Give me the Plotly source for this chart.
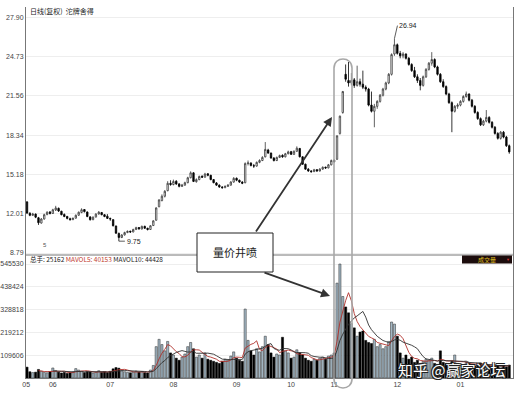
import plotly.graph_objects as go
import pandas as pd

# ---------------- data ----------------
opens = [12.94,12.02,11.85,11.95,11.65,11.22,11.55,11.92,12.12,12.00,12.28,12.42,12.18,11.92,11.76,11.58,11.50,11.62,11.86,12.08,
         12.32,12.12,11.72,11.50,11.72,11.96,12.08,11.90,11.78,11.60,11.50,10.98,10.38,10.05,10.26,10.45,10.56,10.50,10.70,10.86,
         10.74,10.96,10.80,10.70,11.02,11.45,12.55,13.05,13.40,13.85,14.45,14.35,14.62,14.40,14.20,14.30,14.50,14.90,15.30,14.58,
         14.75,15.02,14.95,15.22,15.10,14.75,14.48,14.30,14.15,14.10,14.20,14.30,14.55,14.86,14.70,14.55,14.50,16.05,16.10,15.88,
         15.85,16.15,16.30,16.60,17.15,16.90,16.50,16.30,16.55,16.72,16.60,16.85,17.02,16.80,17.05,17.28,16.60,16.00,15.60,15.45,
         15.40,15.56,15.45,15.60,15.76,15.70,15.95,16.32,16.40,18.50,20.20,23.30,22.80,22.60,22.85,22.40,22.70,22.50,22.25,22.10,
         20.80,20.30,20.70,21.10,21.60,22.10,22.60,23.30,24.95,25.70,25.00,24.80,24.95,24.60,24.10,23.60,23.10,22.80,22.40,23.10,
         23.70,24.20,24.50,23.90,23.30,22.70,22.30,21.70,21.00,20.30,20.70,20.80,21.10,21.50,21.70,21.20,20.70,20.20,19.70,19.20,
         19.50,19.80,19.40,19.00,18.50,18.10,18.60,18.20,17.50]
highs = [13.00,12.10,12.05,12.00,11.72,11.62,11.98,12.18,12.20,12.38,12.62,12.48,12.22,12.00,11.80,11.66,11.68,11.92,12.16,12.42,
         12.36,12.16,11.78,11.76,12.02,12.20,12.12,11.95,11.95,11.66,11.52,11.02,10.45,10.32,10.52,10.62,10.60,10.76,10.92,10.90,
         11.02,11.00,10.84,11.05,11.45,12.50,13.15,13.55,13.90,14.62,14.70,14.75,14.70,14.46,14.40,14.58,14.98,15.42,15.35,14.85,
         15.08,15.10,15.30,15.28,15.14,14.80,14.55,14.36,14.22,14.28,14.38,14.62,14.95,14.92,14.75,14.62,16.15,16.30,16.15,16.02,
         16.22,16.40,16.65,17.80,17.25,16.95,16.58,16.62,16.78,16.80,16.92,17.10,17.08,17.12,17.45,17.32,16.65,16.05,15.68,15.52,
         15.62,15.60,15.68,15.82,15.80,16.02,16.38,16.40,18.35,19.95,21.95,24.10,24.30,23.40,23.00,24.00,22.95,23.60,22.40,22.20,
         21.90,20.90,21.20,21.70,22.20,22.70,23.40,25.00,26.20,25.80,25.20,25.10,25.00,24.70,24.20,23.90,23.30,23.00,23.20,23.80,
         24.30,25.10,24.60,24.00,23.40,22.90,22.40,21.80,21.10,20.80,20.95,21.20,21.60,21.90,21.75,21.30,20.80,20.30,19.80,19.60,
         20.40,19.90,19.50,19.10,18.60,18.70,18.70,18.30,17.60]
lows = [11.95,11.78,11.80,11.62,11.07,11.18,11.50,11.85,11.92,11.96,12.20,12.12,11.85,11.70,11.52,11.42,11.46,11.58,11.80,12.02,
        12.08,11.70,11.42,11.45,11.66,11.90,11.85,11.70,11.55,11.40,10.95,10.35,9.75,10.00,10.20,10.40,10.42,10.46,10.65,10.68,
        10.70,10.76,10.62,10.66,10.98,11.42,12.50,12.98,13.30,13.80,14.25,14.28,14.32,14.12,14.15,14.25,14.45,14.85,14.55,14.50,
        14.70,14.88,14.90,15.02,14.70,14.45,14.25,14.08,14.00,14.05,14.15,14.26,14.50,14.62,14.48,14.38,14.45,15.90,15.82,15.70,
        15.80,16.08,16.25,16.55,16.85,16.45,16.22,16.25,16.50,16.52,16.55,16.80,16.75,16.76,17.00,16.55,15.95,15.55,15.38,15.30,
        15.36,15.38,15.40,15.55,15.62,15.66,15.90,16.12,16.35,18.40,20.10,22.70,22.30,22.40,22.20,22.30,22.30,22.10,21.90,20.70,
        20.20,19.00,20.50,21.00,21.50,22.00,22.50,23.20,24.80,24.90,24.60,24.60,24.50,24.00,23.50,23.00,22.60,22.00,22.30,23.00,
        23.60,24.00,23.80,23.20,22.60,22.20,21.60,20.90,18.60,20.20,20.50,20.70,21.00,21.40,21.10,20.60,20.10,19.60,19.10,19.10,
        19.40,19.30,18.90,18.40,18.00,18.00,18.10,17.40,16.85]
closes = [12.04,11.85,11.95,11.70,11.25,11.55,11.90,12.10,12.00,12.30,12.45,12.20,11.90,11.75,11.60,11.50,11.60,11.85,12.10,12.30,
          12.15,11.75,11.50,11.70,11.95,12.10,11.90,11.75,11.60,11.55,11.00,10.40,10.05,10.25,10.45,10.55,10.50,10.70,10.85,10.75,
          10.95,10.80,10.70,11.00,11.40,12.45,13.10,13.40,13.80,14.45,14.35,14.60,14.40,14.20,14.30,14.50,14.90,15.30,14.60,14.75,
          15.00,14.95,15.20,15.10,14.75,14.50,14.30,14.15,14.10,14.20,14.30,14.55,14.85,14.70,14.55,14.45,16.05,16.10,15.90,15.85,
          16.15,16.30,16.55,17.20,16.90,16.50,16.30,16.55,16.70,16.60,16.85,17.00,16.80,17.05,17.30,16.60,16.00,15.60,15.45,15.40,
          15.55,15.45,15.60,15.75,15.70,15.95,16.30,16.20,18.30,19.90,21.90,22.90,22.60,22.80,22.40,22.70,22.50,22.25,22.10,20.80,
          20.30,20.70,21.10,21.60,22.10,22.60,23.30,24.90,25.70,25.00,24.80,24.95,24.60,24.10,23.60,23.10,22.80,22.40,23.10,23.70,
          24.20,24.50,23.90,23.30,22.70,22.30,21.70,21.00,20.30,20.70,20.80,21.10,21.50,21.70,21.20,20.70,20.20,19.70,19.20,19.50,
          19.80,19.40,19.00,18.50,18.10,18.60,18.20,17.50,17.00]
volumes = [52000,30000,26000,28000,41000,33000,27000,25000,30000,48000,36000,28000,24000,27000,22000,25000,30000,45000,38000,33000,
           26000,31000,29000,24000,28000,35000,27000,30000,26000,32000,44000,50000,47000,36000,30000,27000,25000,29000,33000,28000,
           31000,26000,24000,38000,60000,150000,185000,160000,130000,175000,120000,110000,95000,85000,100000,115000,150000,170000,140000,100000,
           110000,95000,120000,90000,85000,80000,75000,70000,80000,90000,85000,105000,125000,95000,85000,80000,330000,180000,130000,110000,
           140000,125000,150000,200000,160000,120000,100000,115000,110000,195000,130000,120000,95000,100000,135000,120000,110000,95000,85000,80000,
           90000,85000,95000,100000,90000,105000,110000,120000,454000,545530,390000,340000,312000,260000,240000,200000,220000,225000,180000,170000,
           165000,185000,150000,160000,140000,150000,175000,268000,258000,200000,120000,95000,110000,90000,100000,75000,85000,70000,80000,90000,
           85000,95000,70000,65000,130000,75000,70000,65000,80000,110000,70000,68000,62000,75000,70000,60000,58000,65000,72000,55000,
           66000,60000,52000,58000,63000,56000,60000,54000,62000]
month_labels = ["05", "06", "07", "08", "09", "10", "11", "12", "01"]
month_start_idx = [-0.3, 9, 29, 51, 73, 92, 107, 129, 151]
price_ticks = [8.79, 12.01, 15.18, 18.34, 21.56, 24.73, 27.90]
price_tick_text = ["8.79", "12.01", "15.18", "18.34", "21.56", "24.73", "27.90"]
vol_ticks = [109606, 219212, 328818, 438424, 545530]
vol_tick_text = ["109606", "219212", "328818", "438424", "545530"]
title_text = "日线(复权)  沱牌舍得"
high_label, low_label = "26.94", "9.75"

# ---------------- derived ----------------
idx = list(range(len(closes)))
vol_s = pd.Series(volumes, dtype=float)
ma5 = vol_s.rolling(5).mean()
ma10 = vol_s.rolling(10).mean()
up = [c >= o for o, c in zip(opens, closes)]
up_idx = [i for i in idx if up[i]]
dn_idx = [i for i in idx if not up[i]]

FW, FH = 521, 394
L, R, T, B = 26, 513, 7, 378   # plot area in pixels
def px(x): return (x - L) / (R - L)
def py(y): return (B - y) / (B - T)
split = py(255)

fig = go.Figure()
fig.add_trace(go.Candlestick(
    x=idx, open=opens, high=highs, low=lows, close=closes,
    increasing=dict(line=dict(color="#3a3a3a", width=0.8), fillcolor="#ffffff"),
    decreasing=dict(line=dict(color="#000000", width=0.8), fillcolor="#000000"),
    whiskerwidth=0, showlegend=False, hoverinfo="skip", yaxis="y", xaxis="x"))
fig.add_trace(go.Bar(
    x=up_idx, y=[volumes[i] for i in up_idx], yaxis="y2", xaxis="x",
    marker=dict(color="#a3b7c4", line=dict(color="#2a2a2a", width=0.5)),
    width=0.75, showlegend=False, hoverinfo="skip"))
fig.add_trace(go.Bar(
    x=dn_idx, y=[volumes[i] for i in dn_idx], yaxis="y2", xaxis="x",
    marker=dict(color="#000000", line=dict(color="#000000", width=0.5)),
    width=0.75, showlegend=False, hoverinfo="skip"))
fig.add_trace(go.Scatter(x=idx, y=ma5, yaxis="y2", mode="lines",
                         line=dict(color="#b0302a", width=0.9), showlegend=False, hoverinfo="skip"))
fig.add_trace(go.Scatter(x=idx, y=ma10, yaxis="y2", mode="lines",
                         line=dict(color="#303030", width=0.9), showlegend=False, hoverinfo="skip"))

tickfont = dict(family="Liberation Sans, Arial", size=7, color="#444")
top_price = 8.79 + (253 - T) * 0.0812
bot_price = 8.79 - (255 - 253) * 0.0812
fig.update_layout(
    width=FW, height=FH, autosize=False,
    margin=dict(l=L, r=FW - R, t=T, b=FH - B, autoexpand=False),
    paper_bgcolor="white", plot_bgcolor="white",
    bargap=0.2, hovermode=False,
    xaxis=dict(domain=[0, 1], anchor="y2", range=[-0.35, 169.3], automargin=False,
               tickmode="array", tickvals=month_start_idx, ticktext=month_labels,
               tickfont=tickfont, showgrid=False, zeroline=False,
               showline=True, linecolor="#777", linewidth=1, ticks="",
               rangeslider=dict(visible=False)),
    yaxis=dict(domain=[split, 1], range=[bot_price, top_price], automargin=False,
               tickmode="array", tickvals=price_ticks, ticktext=price_tick_text,
               tickfont=tickfont, showgrid=True, gridcolor="#eeeeee", gridwidth=1,
               zeroline=False, showline=True, linecolor="#777", linewidth=1,
               mirror=True, ticks=""),
    yaxis2=dict(domain=[0, split], range=[0, 588600], automargin=False,
                tickmode="array", tickvals=vol_ticks, ticktext=vol_tick_text,
                tickfont=tickfont, showgrid=True, gridcolor="#eeeeee", gridwidth=1,
                zeroline=False, showline=True, linecolor="#777", linewidth=1,
                mirror=True, ticks=""),
    font=dict(family="Liberation Sans, Noto Sans CJK SC"),
)

shapes = []
shapes.append(dict(type="line", xref="paper", yref="paper", x0=0, x1=1, y0=split, y1=split,
                   line=dict(color="#777", width=1)))
shapes.append(dict(type="rect", xref="paper", yref="paper", x0=px(462), x1=px(512), y0=py(263.5), y1=py(255.5),
                   fillcolor="#1c0c0c", line=dict(width=0)))
xl, xr, ytop, ybot = 334, 352, 59, 388
r = (xr - xl) / 2
path = (f"M {px(xl)},{py(ytop + r)} C {px(xl)},{py(ytop - r*0.33)} {px(xr)},{py(ytop - r*0.33)} {px(xr)},{py(ytop + r)} "
        f"L {px(xr)},{py(ybot - r)} C {px(xr)},{py(ybot + r*0.33)} {px(xl)},{py(ybot + r*0.33)} {px(xl)},{py(ybot - r)} Z")
shapes.append(dict(type="path", xref="paper", yref="paper", path=path, layer="above",
                   line=dict(color="#a8a8a8", width=1.6)))
shapes.append(dict(type="rect", xref="paper", yref="paper", x0=px(197), x1=px(273), y0=py(272), y1=py(233),
                   fillcolor="white", line=dict(color="#222", width=1), layer="above"))
fig.update_layout(shapes=shapes)

ann = []
ann.append(dict(xref="paper", yref="paper", x=px(28), y=py(11), text=title_text, showarrow=False,
                xanchor="left", yanchor="middle", font=dict(size=7, color="#222", family="Noto Sans CJK SC")))
ann.append(dict(xref="paper", yref="paper", x=px(28), y=py(259), showarrow=False, xanchor="left", yanchor="middle",
                text="总手: 25162 <span style='color:#c0392b'>MAVOL5: 40153</span> MAVOL10: 44428",
                font=dict(size=6.5, color="#222", family="Noto Sans CJK SC")))
ann.append(dict(xref="paper", yref="paper", x=px(487), y=py(259.5), text="成交量", showarrow=False,
                xanchor="center", yanchor="middle", font=dict(size=6, color="#e0c020", family="Noto Sans CJK SC")))
ann.append(dict(xref="paper", yref="paper", x=px(508), y=py(259.5), text="▼", showarrow=False,
                xanchor="center", yanchor="middle", font=dict(size=4, color="#d03030")))
ann.append(dict(xref="paper", yref="paper", x=px(45), y=py(245), text="5", showarrow=False,
                xanchor="center", yanchor="middle", font=dict(size=6, color="#555")))
ann.append(dict(x=128, y=26.2, xref="x", yref="y", text=high_label, showarrow=True, arrowhead=0,
                arrowwidth=0.8, arrowcolor="#333", ax=3, ay=-13, xanchor="left", yanchor="middle",
                font=dict(size=7, color="#222")))
ann.append(dict(x=32, y=9.75, xref="x", yref="y", text=low_label, showarrow=True, arrowhead=0,
                arrowwidth=0.8, arrowcolor="#333", ax=6, ay=0, xanchor="left", yanchor="middle",
                font=dict(size=7, color="#222")))
ann.append(dict(xref="paper", yref="paper", x=px(235), y=py(252.5), text="量价井喷", showarrow=False,
                xanchor="center", yanchor="middle",
                font=dict(size=11, color="#222", family="Noto Sans CJK SC")))
ann.append(dict(xref="paper", yref="paper", x=px(332), y=py(117), ax=255 - 332, ay=233 - 117, text="",
                showarrow=True, arrowhead=2, arrowsize=1, arrowwidth=1.8, arrowcolor="#333"))
ann.append(dict(xref="paper", yref="paper", x=px(330), y=py(296), ax=263 - 330, ay=272 - 296, text="",
                showarrow=True, arrowhead=2, arrowsize=1, arrowwidth=1.8, arrowcolor="#333"))
ann.append(dict(xref="paper", yref="paper", x=px(452), y=py(369), text="知乎 @赢家论坛", showarrow=False,
                xanchor="center", yanchor="middle",
                font=dict(size=15, color="white", family="Noto Sans CJK SC",
                          shadow="-1px -1px 0 #222, 1px -1px 0 #222, -1px 1px 0 #222, 1px 1px 0 #222")))
fig.update_layout(annotations=ann)

fig.write_html("out.html", config={"displayModeBar": False, "staticPlot": True},
               post_script="document.body.style.margin='0';document.body.style.overflow='hidden';")
